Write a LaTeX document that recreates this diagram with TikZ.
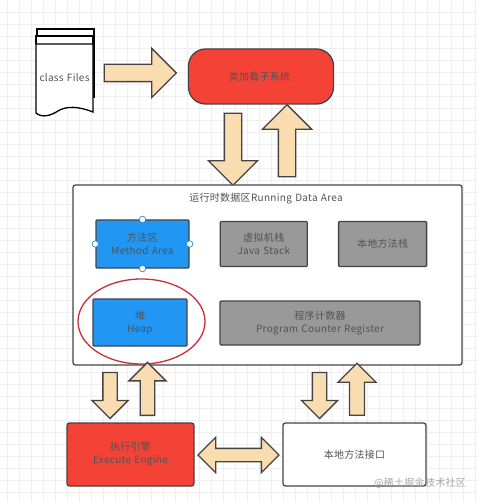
\documentclass[tikz,border=0pt]{standalone}
\usepackage{xcolor}
\usepackage{fontspec}
\usepackage{tikz}
\usetikzlibrary{positioning, shapes.arrows, shapes.geometric}
\setmainfont{Noto Sans CJK SC}[LetterSpace=3, WordSpace=1.3]
\definecolor{stroke}{HTML}{444444}
\definecolor{cream}{HTML}{F9DDB1}
\definecolor{redc}{HTML}{F44336}
\definecolor{bluec}{HTML}{2196F3}
\definecolor{greyc}{HTML}{999999}
\definecolor{gridc}{HTML}{EFEFEF}
\definecolor{ringc}{HTML}{C8303A}
\definecolor{markc}{HTML}{2E8FD8}
\tikzset{
  block/.style={draw=stroke, rounded corners=1pt, line width=1.3pt, align=center, inner sep=0pt,
                text=black!68, font=\fontsize{10}{13}\selectfont},
  bluebox/.style={block, fill=bluec},
  greybox/.style={block, fill=greyc},
  redbox/.style={block, fill=redc, rounded corners=2.5pt},
  whitebox/.style={block, fill=white, rounded corners=2.5pt},
  bigarr/.style={single arrow, draw=stroke, fill=cream, line width=1.3pt, inner xsep=0pt, inner ysep=8pt,
                 single arrow head extend=16pt, single arrow head indent=0pt},
  downarr/.style={bigarr, shape border rotate=270, inner xsep=8pt, inner ysep=0pt},
  uparr/.style={bigarr, shape border rotate=90, inner xsep=8pt, inner ysep=0pt},
  smalldown/.style={downarr, inner xsep=6.5pt, single arrow head extend=11pt},
  smallup/.style={uparr, inner xsep=6.5pt, single arrow head extend=11pt},
  handle/.style={circle, draw=markc, fill=white, line width=0.7pt, inner sep=0pt, minimum size=6.5pt},
}
\begin{document}
\begin{tikzpicture}[x=1pt, y=-1pt]
  \useasboundingbox (0,0) rectangle (478,502);
  \foreach \gx in {7,19,...,475} \draw[gridc, line width=0.6pt] (\gx,0) -- (\gx,502);
  \foreach \gy in {12,24,...,500} \draw[gridc, line width=0.6pt] (0,\gy) -- (478,\gy);
  % class files
  \draw[stroke, line width=1.2pt, fill=white] (37,36) -- (37,29) -- (94,29) -- (94,98);
  \draw[stroke, line width=1.2pt, fill=white] (36,44) -- (36,36) -- (93,36) -- (93,44);
  \draw[stroke, line width=1.3pt, fill=white] (36,44) -- (93,44) -- (93,112)
    .. controls (78,106) and (66,106) .. (58,111) .. controls (50,116) and (42,118) .. (36,113) -- cycle;
  \node[font=\fontsize{10}{13}\selectfont, text=black!68] (files) at (64.5,78) {class Files};
  % loader
  \node[redbox, rounded corners=17pt, minimum width=145pt, minimum height=55pt] (loader) at (261,76.5) {类加载子系统\hspace*{3pt}};
  \node[bigarr, minimum height=72pt, minimum width=48pt] (toloader) at (136,73) {};
  \node[downarr, minimum height=72pt, minimum width=48pt] (loaddown) at (233,145) {};
  \node[uparr, minimum height=72pt, minimum width=48pt] (loadup) at (287,145) {};
  % data area
  \node[whitebox, minimum width=389pt, minimum height=180pt] (area) at (267.5,275) {};
  \node[text=black!68, font=\fontsize{10}{13}\selectfont] (areatitle) at (266,199) {运行时数据区Running Data Area};
  \node[bluebox, minimum width=93pt, minimum height=48pt] (method) at (142.5,244) {方法区\\Method Area};
  \node[greybox, minimum width=87pt, minimum height=45pt, right=30pt of method.east, anchor=west] (jstack) {虚拟机栈\\Java Stack};
  \node[greybox, minimum width=88pt, minimum height=45pt, right=30pt of jstack] (nstack) {本地方法栈};
  \node[bluebox, minimum width=94pt, minimum height=47pt] (heap) at (140,322.5) {堆\\Heap};
  \node[greybox, minimum width=200pt, minimum height=44pt] (pc) at (320,323) {程序计数器\\Program Counter Register};
  \node[draw=ringc, line width=1.3pt, ellipse, minimum width=127pt, minimum height=85pt, inner sep=0pt] (ring) at (141.5,321.5) {};
  \node[handle] (mtop) at (method.north) {};
  \node[handle] (mbot) at (method.south) {};
  \node[handle] (mleft) at (method.west) {};
  \node[handle] (mright) at (method.east) {};
  % engine and native interface
  \node[redbox, minimum width=127pt, minimum height=63pt] (engine) at (130.5,454.5) {执行引擎\\Execute Engine};
  \node[whitebox, minimum width=143pt, minimum height=63pt] (native) at (354.5,454.5) {本地方法接口};
  \node[smalldown, minimum height=46pt, minimum width=34pt] (areadown) at (110,392) {};
  \node[smallup, minimum height=53pt, minimum width=37pt] (areaup) at (147.5,392.5) {};
  \node[smalldown, minimum height=46pt, minimum width=33pt] (nativedown) at (319.5,392) {};
  \node[smallup, minimum height=52pt, minimum width=38pt] (nativeup) at (357,393) {};
  \node[double arrow, draw=stroke, fill=cream, line width=1.3pt, inner xsep=0pt, inner ysep=6pt,
        double arrow head extend=11pt, double arrow head indent=0pt,
        minimum height=81pt, minimum width=33pt] (link) at (238.5,455) {};
  \node[text=black!35, font=\fontsize{10}{13}\selectfont] (mark) at (420,483) {@稀土掘金技术社区};
\end{tikzpicture}
\end{document}
